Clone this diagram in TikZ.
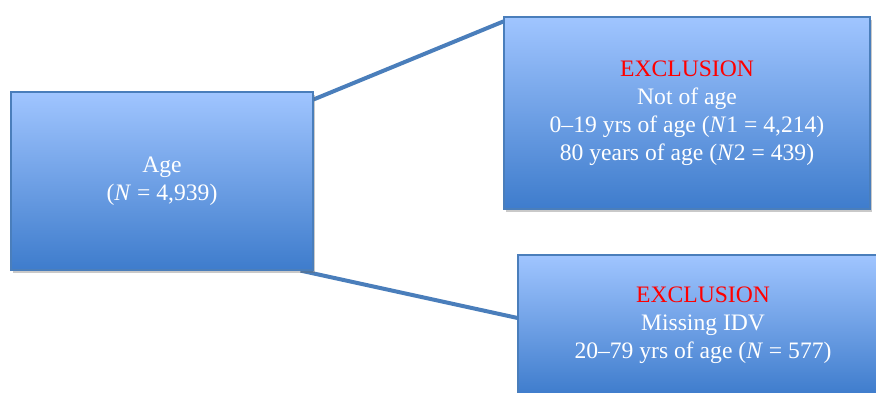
\documentclass[tikz,border=0pt]{standalone}
\usepackage{fontspec}
\setmainfont{Liberation Serif}
\usetikzlibrary{calc,shadows,backgrounds}
\definecolor{edgeblue}{RGB}{74,126,187}
\definecolor{lightblue}{RGB}{160,197,255}
\definecolor{darkblue}{RGB}{62,124,204}
\definecolor{exred}{RGB}{255,0,0}
\tikzset{
  flowbox/.style={rectangle, draw=edgeblue, line width=1.2pt,
    top color=lightblue, bottom color=darkblue,
    text=white, align=center, inner sep=0pt,
    font=\fontsize{23.6}{28}\selectfont,
    drop shadow={shadow xshift=2pt, shadow yshift=-3pt, opacity=0.35, fill=black!60}},
  link/.style={draw=edgeblue, line width=4pt}
}
\begin{document}
\begin{tikzpicture}[x=1pt,y=-1pt]
\useasboundingbox (0,0) rectangle (876,392);
\node[flowbox, minimum width=302pt, minimum height=178pt] (age) at (162,181)
  {Age\\(\textit{N} = 4,939)};
\node[flowbox, minimum width=366pt, minimum height=192pt] (top) at (687,113)
  {\textcolor{exred}{EXCLUSION}\\Not of age\\0–19 yrs of age (\textit{N}1 = 4,214)\\80 years of age (\textit{N}2 = 439)};
\node[flowbox, minimum width=370pt, minimum height=140pt] (bot) at (703,325)
  {\textcolor{exred}{EXCLUSION}\\Missing IDV\\20–79 yrs of age (\textit{N} = 577)};
\coordinate (a1) at ($(age.north east)!0.045!(age.south east)$);
\coordinate (t1) at ($(top.north west)!0.026!(top.south west)$);
\coordinate (a2) at ($(age.south east)!0.043!(age.south west)$);
\coordinate (b1) at ($(bot.north west)!0.45!(bot.south west)$);
\begin{scope}[on background layer]
\fill[white] (0,0) rectangle (876,392);
\draw[link] (a1) -- (t1);
\draw[link] (a2) -- (b1);
\end{scope}
\end{tikzpicture}
\end{document}
